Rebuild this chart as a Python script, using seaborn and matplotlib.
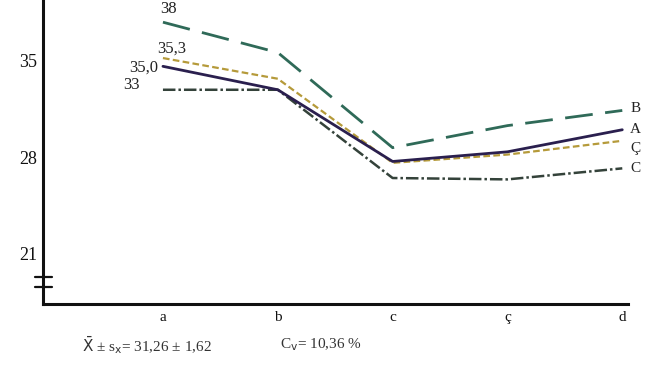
import numpy as np
import pandas as pd
import matplotlib
matplotlib.use("Agg")
import matplotlib.pyplot as plt
import matplotlib.transforms as mtransforms
import seaborn as sns

categories = ["a", "b", "c", "ç", "d"]
series_B = [37.8, 35.6, 28.7, 30.3, 31.4]
series_A = [34.6, 32.9, 27.7, 28.4, 30.0]
series_Cc = [35.2, 33.7, 27.6, 28.2, 29.2]
series_C = [32.9, 32.9, 26.5, 26.4, 27.2]
start_labels = ["38", "35,3", "35,0", "33"]
y_ticks = [21, 28, 35]

pos = np.arange(len(categories))
data = pd.DataFrame({"pos": pos, "B": series_B, "A": series_A,
                     "Ç": series_Cc, "C": series_C})

sns.set_style("white")
plt.rcParams["font.family"] = ["Liberation Serif", "DejaVu Serif"]

fig = plt.figure(figsize=(6.59, 3.65), dpi=100)
ax = fig.add_axes([0.065, 0.167, 0.888, 0.833])

styles = {
    "B": dict(color="#2f6a58", lw=2.0, dashes=(10, 4.5)),
    "A": dict(color="#2a1f4e", lw=2.0, dashes=None),
    "Ç": dict(color="#b59a3a", lw=1.6, dashes=(3, 1.5)),
    "C": dict(color="#34423a", lw=1.8, dashes=(5, 1.2, 1, 1.2)),
}
for name in ["C", "Ç", "A", "B"]:
    st = styles[name]
    sns.lineplot(data=data, x="pos", y=name, ax=ax, color=st["color"],
                 linewidth=st["lw"], legend=False)
    l = ax.get_lines()[-1]
    if st["dashes"] is not None:
        l.set_dashes(st["dashes"])
    l.set_dash_capstyle("butt")

# series names at the right end
for name, dy in [("B", 0.15), ("A", 0.0), ("Ç", -0.55), ("C", 0.0)]:
    ax.text(4.07, data[name].iloc[-1] + dy, name, fontsize=11,
            ha="left", va="center", color="#222222")

# values at the first point
ax.text(0.05, 38.45, start_labels[0], fontsize=12, ha="center", va="baseline", color="#222222")
ax.text(0.08, 35.9, start_labels[1], fontsize=12, ha="center", va="center", color="#222222")
ax.text(-0.04, 34.5, start_labels[2], fontsize=12, ha="right", va="center", color="#222222")
ax.text(-0.35, 33.25, start_labels[3], fontsize=12, ha="left", va="center", color="#222222")

ax.set_xlim(-1.046, 4.05)
ax.set_ylim(17.36, 39.41)
ax.set_xticks(pos)
ax.set_xticklabels(categories, fontsize=11)
ax.set_yticks(y_ticks)
ax.set_yticklabels([str(t) for t in y_ticks], fontsize=13)
ax.set_xlabel("")
ax.set_ylabel("")
ax.tick_params(axis="both", direction="in", length=5, width=1.5, colors="#111111", pad=4)
ax.tick_params(axis="x", pad=5)
for s in ["top", "right"]:
    ax.spines[s].set_visible(False)
for s in ["left", "bottom"]:
    ax.spines[s].set_linewidth(2.2)
    ax.spines[s].set_color("#111111")

# axis break marks
trans = mtransforms.blended_transform_factory(ax.transAxes, ax.transData)
for yb in [19.3, 18.6]:
    ax.plot([-0.014, 0.016], [yb, yb], color="#111111", lw=1.6,
            transform=trans, clip_on=False)

fig.text(82 / 659, 1 - 345 / 365, r"$\bar{\mathrm{X}}$ ± s$_\mathrm{x}$= 31,26 ± 1,62",
         fontsize=11, ha="left", va="center", color="#333333")
fig.text(280 / 659, 1 - 345 / 365, "C$_\\mathrm{v}$= 10,36 %",
         fontsize=11, ha="left", va="center", color="#333333")

fig.savefig("out.png", dpi=100)
